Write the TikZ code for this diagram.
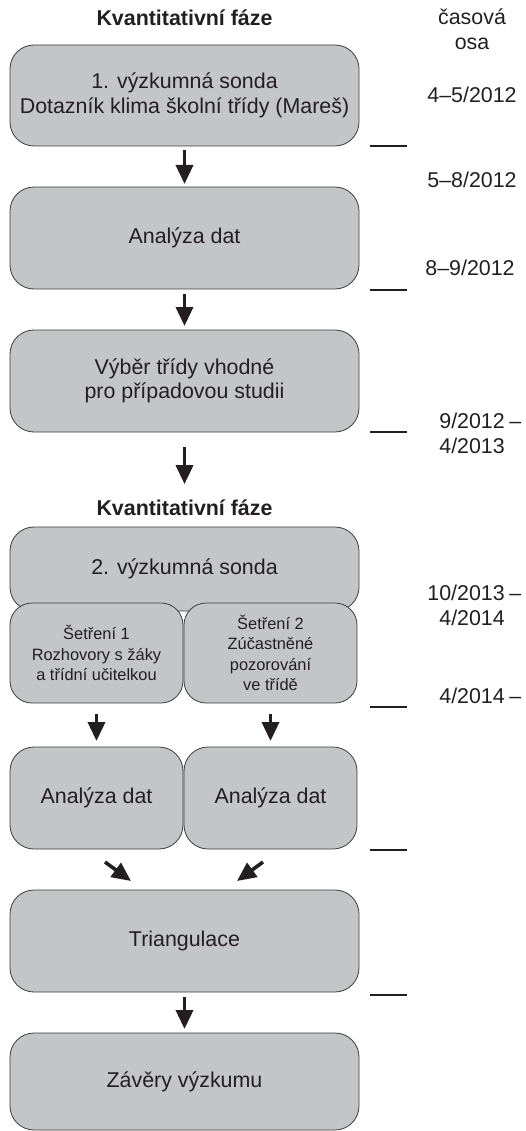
\documentclass[tikz,border=0pt]{standalone}
\usepackage{fontspec}
\setmainfont{Liberation Sans}
\usetikzlibrary{arrows.meta}
\definecolor{boxfill}{RGB}{196,197,199}
\definecolor{boxline}{RGB}{60,60,60}
\definecolor{ink}{RGB}{35,31,32}
\begin{document}
\begin{tikzpicture}[x=1pt,y=-1pt,
  box/.style={draw=boxline, fill=boxfill, line width=0.8pt, rounded corners=24pt,
    inner sep=0pt, outer sep=0pt, align=center, text=ink,
    font=\fontsize{21.4}{24.5}\selectfont},
  sbox/.style={box, font=\fontsize{16.4}{20.5}\selectfont, rounded corners=22pt},
  arr/.style={-{Triangle[width=17pt,length=19pt]}, line width=3.6pt, draw=ink},
  tick/.style={line width=1.4pt, draw=ink},
  lbl/.style={text=ink, font=\fontsize{21.4}{25}\selectfont, inner sep=0pt},
  hdr/.style={text=ink, font=\bfseries\fontsize{21.4}{25}\selectfont, inner sep=0pt}]
\useasboundingbox (0,0) rectangle (526,1131);

% headers
\node[hdr, anchor=base] (h1) at (184.5,26) {Kvantitativní fáze};
\node[hdr, anchor=base] (h2) at (184.5,515) {Kvantitativní fáze};

% main boxes
\node[box, minimum width=349pt, minimum height=101pt] (b1) at (184.5,95.5)
  {1. výzkumná sonda\\Dotazník klima školní třídy (Mareš)};
\node[box, minimum width=349pt, minimum height=102pt] (b2) at (184.5,238) {Analýza dat};
\node[box, minimum width=349pt, minimum height=102pt] (b3) at (184.5,381)
  {Výběr třídy vhodné\\pro případovou studii};
\node[box, minimum width=349pt, minimum height=84pt] (b4) at (184.5,569) {2. výzkumná sonda};
\node[sbox, minimum width=173pt, minimum height=100pt] (s1) at (96.5,653)
  {Šetření 1\\Rozhovory s žáky\\a třídní učitelkou};
\node[sbox, minimum width=173pt, minimum height=100pt] (s2) at (270.5,653)
  {Šetření 2\\Zúčastněné\\pozorování\\ve třídě};
\node[box, minimum width=173pt, minimum height=102pt] (a1) at (96.5,798) {Analýza dat};
\node[box, minimum width=173pt, minimum height=102pt] (a2) at (270.5,798) {Analýza dat};
\node[box, minimum width=349pt, minimum height=102pt] (tri) at (184.5,941) {Triangulace};
\node[box, minimum width=349pt, minimum height=97pt] (zav) at (184.5,1081.5) {Závěry výzkumu};

% arrows
\draw[arr, shorten <=4pt, shorten >=3pt] (b1) -- (b2);
\draw[arr, shorten <=5pt, shorten >=4pt] (b2) -- (b3);
\draw[arr, shorten <=15pt, shorten >=15pt] (b3) -- (h2);
\draw[arr, shorten <=11pt, shorten >=6pt] (s1) -- (a1);
\draw[arr, shorten <=11pt, shorten >=6pt] (s2) -- (a2);
\coordinate (d1s) at (105,862);
\coordinate (d1e) at (131,881);
\coordinate (d2s) at (263,862);
\coordinate (d2e) at (237,881);
\draw[arr] (d1s) -- (d1e);
\draw[arr] (d2s) -- (d2e);
\draw[arr, shorten <=5pt, shorten >=4pt] (tri) -- (zav);

% timeline ticks
\foreach \y in {146,290,432,707,850,995}
  \draw[tick] (370,\y) -- (407,\y);

% timeline labels
\node[lbl, anchor=base, align=center] (t0) at (472,50) {časová\\osa};
\node[lbl, anchor=base] (t1) at (472,103) {4–5/2012};
\node[lbl, anchor=base] (t2) at (472,188) {5–8/2012};
\node[lbl, anchor=base] (t3) at (470,276) {8–9/2012};
\node[lbl, anchor=base east, align=right] (t4) at (505,453) {9/2012\rlap{\kern4.5pt–}\\4/2013};
\node[lbl, anchor=base east, align=right] (t5) at (505,625) {10/2013\rlap{\kern4.5pt–}\\4/2014};
\node[lbl, anchor=base east] (t6) at (505,703) {4/2014\rlap{\kern4.5pt–}};
\end{tikzpicture}
\end{document}
